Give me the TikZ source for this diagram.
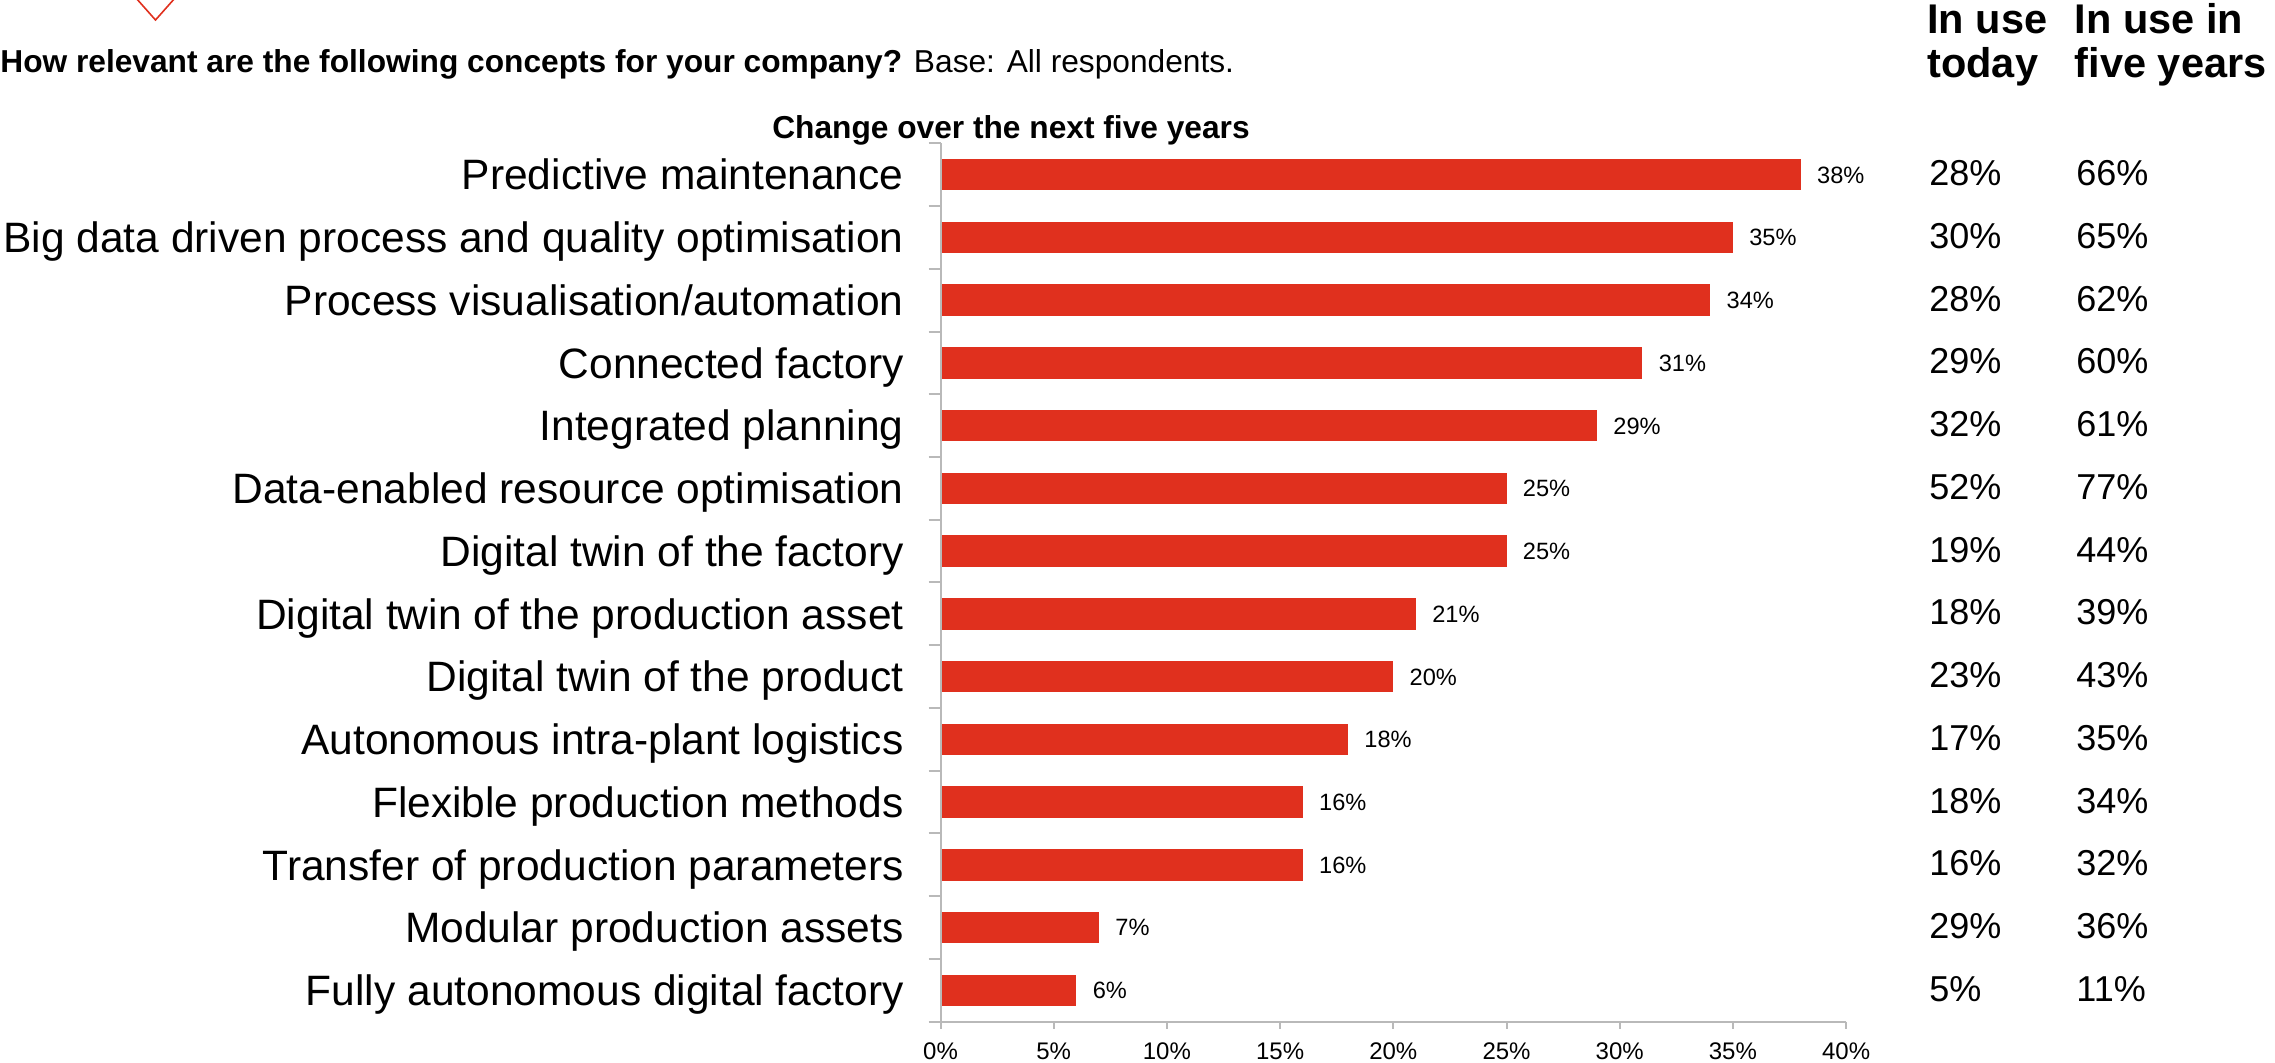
\documentclass[tikz,border=0pt]{standalone}
\usepackage{fontspec}
\setmainfont{Liberation Sans}
\definecolor{barred}{RGB}{224,48,30}
\definecolor{axisgray}{RGB}{185,185,185}
\begin{document}
\begin{tikzpicture}[x=0.5pt,y=-0.5pt,
  cat/.style={anchor=base east, inner sep=0pt, font=\fontsize{21.25pt}{24pt}\selectfont},
  val/.style={anchor=base west, inner sep=0pt, font=\fontsize{11.8pt}{14pt}\selectfont},
  ticklab/.style={anchor=base, inner sep=0pt, font=\fontsize{12pt}{14pt}\selectfont},
  col/.style={anchor=base west, inner sep=0pt, font=\fontsize{18pt}{20pt}\selectfont},
  hdr/.style={anchor=base west, inner sep=0pt, font=\bfseries\fontsize{20.75pt}{22pt}\selectfont},
  axisline/.style={draw=axisgray, line width=1pt}]
\useasboundingbox (0,0) rectangle (2275,1062);

% red marker
\draw[barred, line width=0.8pt] (136,-2) -- (155.5,20) -- (175,-2);

% title
\node[anchor=base west, inner sep=0pt, font=\fontsize{15.85pt}{18pt}\selectfont] (title) at (0,72.7)
  {\textbf{How relevant are the following concepts for your company?} Base: All respondents.};
\node[anchor=base, inner sep=0pt, font=\bfseries\fontsize{15.85pt}{18pt}\selectfont] (chg) at (1011,138)
  {Change over the next five years};

% column headers
\node[hdr] (h1a) at (1927,33.3) {In use};
\node[hdr] (h1b) at (1927,77.3) {today};
\node[hdr] (h2a) at (2074.5,33.3) {In use in};
\node[hdr] (h2b) at (2074.5,77.3) {five years};

% bars and labels
\foreach \lab/\v/\t/\f [count=\i from 0] in {
  Predictive maintenance/38/28/66,
  Big data driven process and quality optimisation/35/30/65,
  {Process visualisation/automation}/34/28/62,
  Connected factory/31/29/60,
  Integrated planning/29/32/61,
  Data-enabled resource optimisation/25/52/77,
  Digital twin of the factory/25/19/44,
  Digital twin of the production asset/21/18/39,
  Digital twin of the product/20/23/43,
  Autonomous intra-plant logistics/18/17/35,
  Flexible production methods/16/18/34,
  Transfer of production parameters/16/16/32,
  Modular production assets/7/29/36,
  Fully autonomous digital factory/6/5/11}{
  \pgfmathsetmacro\c{174.67+\i*62.74}
  \pgfmathsetmacro\e{940.5+\v*22.64}
  \fill[barred] (940.5,\c-15.8) rectangle (\e,\c+15.8);
  \node[cat] (cat\i) at (904,\c+15.3) {\lab};
  \node[val] (val\i) at (\e+16,\c+8.4) {\v\%};
  \node[col] (today\i) at (1929,\c+11) {\t\%};
  \node[col] (five\i) at (2076,\c+11) {\f\%};
}

% axes
\draw[axisline] (940.5,143.3) -- (940.5,1021.7);
\draw[axisline] (928.5,1021.7) -- (1846.1,1021.7);
\foreach \k in {0,...,13}{
  \draw[axisline] (928.5,143.3+\k*62.74) -- (940.5,143.3+\k*62.74);
}
\foreach \k in {0,...,8}{
  \pgfmathsetmacro\xx{940.5+\k*113.2}
  \pgfmathtruncatemacro\pp{\k*5}
  \draw[axisline] (\xx,1021.7) -- (\xx,1029);
  \node[ticklab] (tick\k) at (\xx,1059.1) {\pp\%};
}
\end{tikzpicture}
\end{document}
